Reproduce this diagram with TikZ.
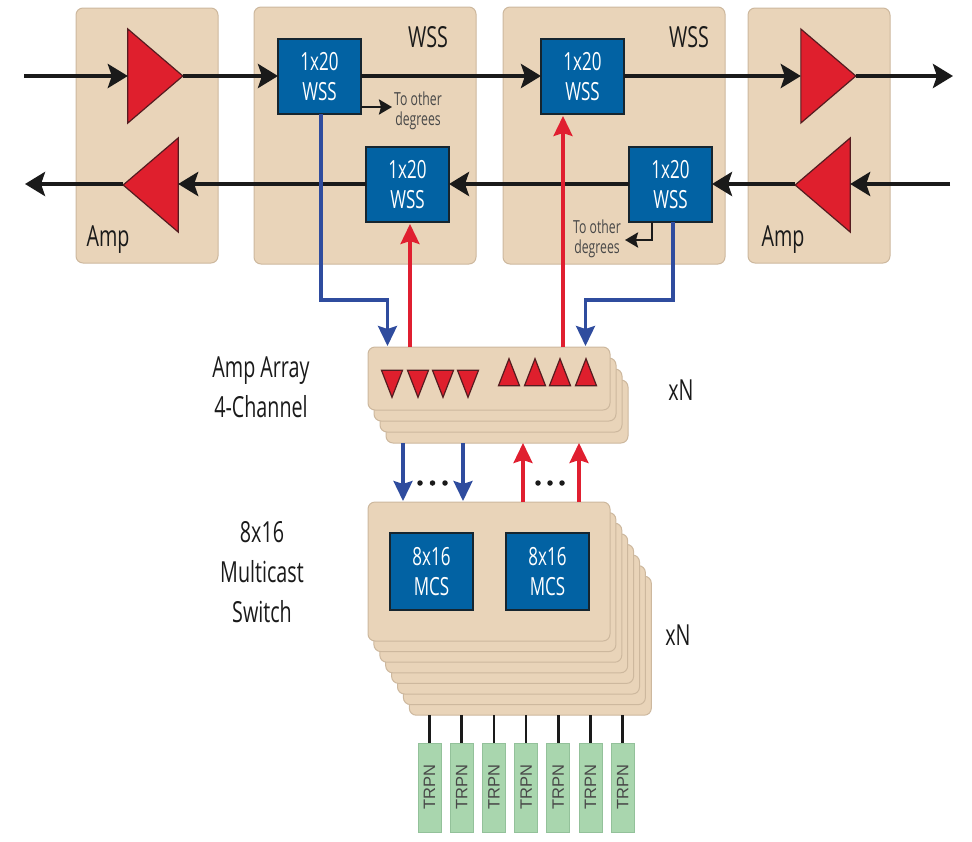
\documentclass[tikz,border=0pt]{standalone}
\usepackage{fontspec}
\setmainfont{Open Sans}
\newfontfamily\cond[FakeStretch=0.68]{Open Sans}
\newfontfamily\plain{Liberation Sans}
\usetikzlibrary{arrows.meta,shapes.geometric}
\definecolor{tan}{HTML}{E9D4B9}
\definecolor{tanedge}{HTML}{CDB89E}
\definecolor{wssblue}{HTML}{0262A3}
\definecolor{ampred}{HTML}{DF1F2D}
\definecolor{lineblue}{HTML}{2F4C9E}
\definecolor{linered}{HTML}{E01F30}
\definecolor{trpn}{HTML}{A9D6AE}
\definecolor{trpnedge}{HTML}{93C19A}
\definecolor{ink}{HTML}{1A1A1A}
\tikzset{
  x=1pt,y=-1pt,
  panel/.style={draw=tanedge,line width=1pt,fill=tan,rounded corners=7pt,anchor=north west,inner sep=0,outer sep=0},
  wss/.style={draw=ink!85!wssblue,line width=1.4pt,fill=wssblue,text=white,anchor=north west,inner sep=0,outer sep=0,minimum width=83pt,minimum height=75pt,align=center,font=\cond\fontsize{25}{32}\selectfont},
  mcs/.style={wss,minimum height=77pt},
  amp/.style={isosceles triangle,isosceles triangle stretches,draw=ink!70!ampred,line width=1.2pt,fill=ampred,inner sep=0,outer sep=0},
  bigamp/.style={amp,minimum width=94pt,minimum height=55pt},
  smallamp/.style={amp,minimum width=21pt,minimum height=27pt,shape border rotate=#1},
  lbl/.style={text=ink,inner sep=0,align=center,font=\cond\fontsize{29}{40}\selectfont},
  small/.style={text=ink!80,inner sep=0,align=center,font=\cond\fontsize{18}{20}\selectfont},
  mainline/.style={draw=ink,line width=4pt,-{Stealth[length=20pt,width=24pt,inset=4pt]}},
  plainline/.style={draw=ink,line width=4pt},
  thinline/.style={draw=ink,line width=2.6pt,-{Stealth[length=13pt,width=15pt,inset=2pt]}},
  blueline/.style={draw=lineblue,line width=3.2pt,-{Stealth[length=20pt,width=19pt,inset=3pt]}},
  redline/.style={draw=linered,line width=3.2pt,-{Stealth[length=20pt,width=19pt,inset=3pt]}},
  trpnbox/.style={draw=trpnedge,line width=1pt,fill=trpn,anchor=north west,inner sep=0,outer sep=0,minimum width=23pt,minimum height=89pt},
  trpntext/.style={rotate=90,text=ink!80,inner sep=0,font=\plain\fontsize{16.5}{18}\selectfont},
  dot/.style={circle,fill=ink,inner sep=0,minimum size=5.5pt},
}
\begin{document}
\begin{tikzpicture}
\useasboundingbox (0,0) rectangle (972,841);
% panels
\node[panel,minimum width=142pt,minimum height=255pt] (ampL) at (76,8) {};
\node[panel,minimum width=222pt,minimum height=257pt] (wssL) at (254,7) {};
\node[panel,minimum width=222pt,minimum height=257pt] (wssR) at (503,7) {};
\node[panel,minimum width=142pt,minimum height=255pt] (ampR) at (748,8) {};
\node[lbl] (lampL) at (108,240) {Amp};
\node[lbl] (lampR) at (783,240) {Amp};
\node[lbl] (lwssL) at (428,37) {WSS};
\node[lbl] (lwssR) at (689,37) {WSS};
% amplifiers
\node[bigamp] (a1) at (149.5,76) {};
\node[bigamp] (a2) at (822.5,76) {};
\node[bigamp,shape border rotate=180] (a3) at (828.5,185) {};
\node[bigamp,shape border rotate=180] (a4) at (156.5,185) {};
% WSS boxes
\node[wss] (w1) at (278,39) {1x20\\[-2pt]WSS};
\node[wss] (w2) at (541,39) {1x20\\[-2pt]WSS};
\node[wss] (w3) at (366,147) {1x20\\[-2pt]WSS};
\node[wss] (w4) at (629,147) {1x20\\[-2pt]WSS};
% free ends
\coordinate (inT) at (24,76);
\coordinate (outT) at (953,76);
\coordinate (inB) at (950,184);
\coordinate (outB) at (25,184);
% main lines
\draw[mainline] (inT) -- (a1.west |- inT) ;
\draw[mainline] (a1.east |- inT) -- (w1.west |- inT);
\draw[mainline] (w1.east |- inT) -- (w2.west |- inT);
\draw[mainline] (w2.east |- inT) -- (a2.west |- inT);
\draw[mainline] (a2.east |- inT) -- (outT);
\draw[mainline] (inB) -- (a3.east |- inB);
\draw[mainline] (a3.west |- inB) -- (w4.east |- inB);
\draw[plainline,-{Stealth[length=20pt,width=24pt,inset=4pt]}] (w4.west |- inB) -- (w3.east |- inB);
\draw[mainline] (w3.west |- inB) -- (a4.east |- inB);
\draw[mainline] (a4.west |- inB) -- (outB);
% amp array
\foreach \i in {3,2,1,0}
  \node[panel,minimum width=242pt,minimum height=63pt] (arr\i) at ({368+6*\i},{347+11*\i}) {};
\foreach \n/\x in {d1/392,d2/418,d3/443,d4/468}
  \node[smallamp=-90] (\n) at (\x,377.5) {};
\foreach \n/\x in {u1/509,u2/535,u3/560,u4/586}
  \node[smallamp=90] (\n) at (\x,378.5) {};
% multicast
\foreach \i in {7,6,...,0}
  \node[panel,minimum width=242pt,minimum height=139pt] (sw\i) at ({368+5.9*\i},{502+10.6*\i}) {};
\node[mcs] (m1) at (390,533) {8x16\\[-2pt]MCS};
\node[mcs] (m2) at (506,533) {8x16\\[-2pt]MCS};
% other-degree arrows
\coordinate (t1s) at (361,107);
\coordinate (t1e) at (392,107);
\draw[thinline] (t1s) -- (t1e);
\coordinate (t2s) at (652,222);
\coordinate (t2e) at (625,240);
\draw[thinline] (t2s) |- (t2e);
\node[small] (o1) at (418,111) {To other\\degrees};
\node[small] (o2) at (597,239) {To other\\degrees};
% blue and red to array
\coordinate (b1s) at (321,114);
\coordinate (b2s) at (673,222);
\coordinate (b1m) at (387.5,300);
\coordinate (b2m) at (585.5,300);
\coordinate (b1e) at (387.5,346);
\coordinate (b2e) at (585.5,346);
\coordinate (r1s) at (410,347);
\coordinate (r2s) at (563,347);
\coordinate (r1e) at (410,224);
\coordinate (r2e) at (563,116);
\draw[blueline] (b1s) |- (b1m) -- (b1e);
\draw[blueline] (b2s) |- (b2m) -- (b2e);
\draw[redline] (r1s) -- (r1e);
\draw[redline] (r2s) -- (r2e);
% between array and switch
\foreach \x in {403,463}{
  \coordinate (p) at (\x,443); \coordinate (q) at (\x,501);
  \draw[blueline] (p) -- (q);}
\foreach \x in {523,579}{
  \coordinate (p) at (\x,502); \coordinate (q) at (\x,443);
  \draw[redline] (p) -- (q);}
\foreach \n/\x in {e1/420,e2/432.5,e3/445,e4/538,e5/550,e6/562}
  \node[dot] (\n) at (\x,483) {};
% TRPN
\foreach \i in {0,...,6}{
  \node[trpnbox] (tr\i) at ({418+32.2*\i},743) {};
  \node[trpntext] (trt\i) at (tr\i.center) {TRPN};
  \coordinate (sw\i b) at (tr\i.north |- 0,715);
  \draw[draw=ink,line width=2.6pt] (sw\i b) -- (tr\i.north);
}
% side labels
\node[lbl] (l1) at (261,387.5) {Amp Array\\4-Channel};
\node[lbl] (l2) at (262,572) {8x16\\Multicast\\Switch};
\node[lbl] (x1) at (681,390) {xN};
\node[lbl] (x2) at (678,635) {xN};
\end{tikzpicture}
\end{document}
